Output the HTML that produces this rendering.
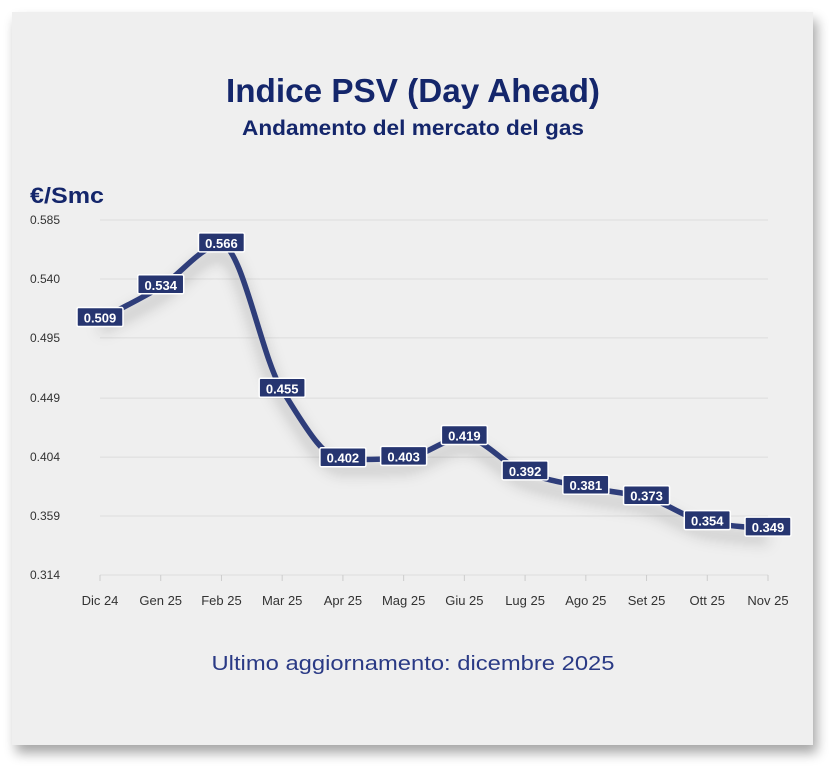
<!DOCTYPE html>
<html><head><meta charset="utf-8"><style>
html,body{margin:0;padding:0;background:#fff;width:829px;height:770px;overflow:hidden}
svg{display:block;font-family:"Liberation Sans",sans-serif}
</style></head><body>
<svg width="829" height="770" viewBox="0 0 829 770">
<defs>
<filter id="sh" x="-5%" y="-5%" width="110%" height="115%"><feGaussianBlur stdDeviation="6"/></filter>
<filter id="ls" x="-10%" y="-20%" width="120%" height="160%"><feGaussianBlur stdDeviation="7"/></filter>
</defs>
<rect x="16" y="20" width="801" height="733" fill="#000" opacity="0.35" filter="url(#sh)"/>
<rect x="12" y="12" width="801" height="733" fill="#efefef"/>
<text x="413" y="102" text-anchor="middle" font-size="33" font-weight="bold" fill="#14266b" textLength="374" lengthAdjust="spacingAndGlyphs">Indice PSV (Day Ahead)</text>
<text x="413" y="135" text-anchor="middle" font-size="21" font-weight="bold" fill="#14266b" textLength="342" lengthAdjust="spacingAndGlyphs">Andamento del mercato del gas</text>
<text x="30" y="203" font-size="22" font-weight="bold" fill="#14266b" textLength="74" lengthAdjust="spacingAndGlyphs">€/Smc</text>
<g id="grid"></g><g id="xl"></g>
<path id="shadow" fill="none" stroke="#000" stroke-opacity="0.18" stroke-width="10" filter="url(#ls)"/>
<path id="line" fill="none" stroke="#2e3d7a" stroke-width="5.5" stroke-linecap="round" stroke-linejoin="round"/>
<g id="labels"></g>
<text x="413" y="670" text-anchor="middle" font-size="20" fill="#2a3a85" textLength="403" lengthAdjust="spacingAndGlyphs">Ultimo aggiornamento: dicembre 2025</text>
</svg>
<script>
const categories=["Dic 24","Gen 25","Feb 25","Mar 25","Apr 25","Mag 25","Giu 25","Lug 25","Ago 25","Set 25","Ott 25","Nov 25"];
const values=[0.509,0.534,0.566,0.455,0.402,0.403,0.419,0.392,0.381,0.373,0.354,0.349];
const yTicks=[0.314,0.359,0.404,0.449,0.495,0.540,0.585];
const X0=100,X1=768,Y0=575,Y1=220,yMin=0.314,yMax=0.585;
const xs=i=>X0+(X1-X0)*i/(categories.length-1);
const ys=v=>Y0-(v-yMin)/(yMax-yMin)*(Y0-Y1);
const NS="http://www.w3.org/2000/svg";
function mk(t,a,p){const e=document.createElementNS(NS,t);for(const k in a)e.setAttribute(k,a[k]);p.appendChild(e);return e;}
const g=document.getElementById('grid');
yTicks.forEach(t=>{const y=ys(t);
 const l=mk('line',{x1:X0,x2:X1,y1:y,y2:y,stroke:'#dcdcdc','stroke-width':1},g);
 
 
 const tx=mk('text',{x:30,y:y+4,'font-size':12,fill:'#333'},g);tx.textContent=t.toFixed(3);
 
 
});
const xl=document.getElementById('xl');
categories.forEach((c,i)=>{
 const tk=mk('line',{x1:xs(i),x2:xs(i),y1:Y0,y2:Y0+6,stroke:'#ccc'},xl);
 
 
 const t=mk('text',{x:xs(i),y:605,'font-size':13,fill:'#333','text-anchor':'middle'},xl);t.textContent=c;
 
 
});
const P=values.map((v,i)=>[xs(i),ys(v)]);const n=P.length;
const d=[],m=[];for(let i=0;i<n-1;i++)d.push((P[i+1][1]-P[i][1])/(P[i+1][0]-P[i][0]));
m[0]=d[0];m[n-1]=d[n-2];for(let i=1;i<n-1;i++)m[i]=d[i-1]*d[i]<=0?0:2/(1/d[i-1]+1/d[i]);
let path=`M${P[0][0]},${P[0][1]}`;
for(let i=0;i<n-1;i++){const h=(P[i+1][0]-P[i][0])/3;
 path+=` C${P[i][0]+h},${P[i][1]+m[i]*h} ${P[i+1][0]-h},${P[i+1][1]-m[i+1]*h} ${P[i+1][0]},${P[i+1][1]}`;}
document.getElementById('line').setAttribute('d',path);
const sh=document.getElementById('shadow');sh.setAttribute('d',path);sh.setAttribute('transform','translate(0,10)');
const lg=document.getElementById('labels');
values.forEach((v,i)=>{const x=xs(i),y=ys(v);
 const gg=mk('g',{},lg);
 
 
 mk('rect',{x:x-23,y:y-12,width:46,height:19,fill:'#263570',stroke:'#fff','stroke-width':1.5,rx:1.5},gg);
 const t=mk('text',{x:x,y:y+3,'font-size':13,'font-weight':'bold',fill:'#fff','text-anchor':'middle'},gg);t.textContent=v.toFixed(3);
});
</script>
</body></html>
